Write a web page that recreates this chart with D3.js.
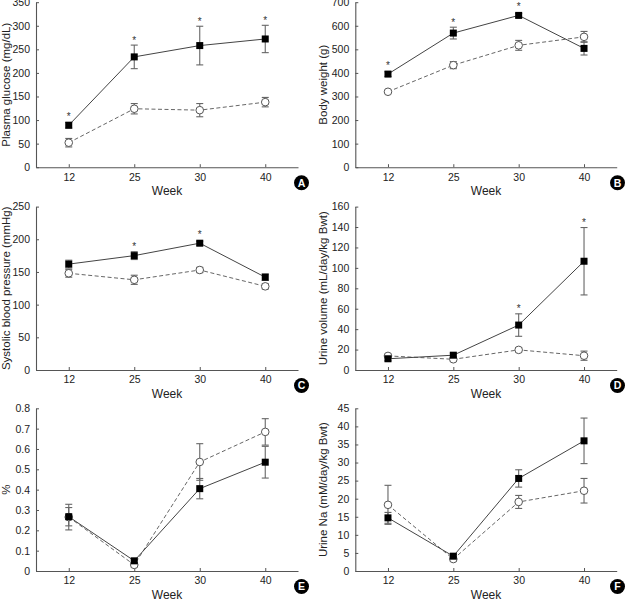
<!DOCTYPE html>
<html><head><meta charset="utf-8">
<script src="https://cdn.jsdelivr.net/npm/d3@7"></script>
<style>body{margin:0;background:#fff}svg{display:block}text{font-family:"Liberation Sans",Arial,sans-serif}</style>
</head><body><svg id="c" width="628" height="599"></svg>
<script>
const weeks = ["12","25","30","40"];

const glucoseDM = [89, 234, 258, 272], glucoseDMErr = [6, 25, 41, 29];
const glucoseCon = [52, 124, 121, 138], glucoseConErr = [9, 11, 14, 10];
const glucoseSig = [1, 1, 1, 1];
const glucoseTicks = [0, 50, 100, 150, 200, 250, 300, 350];

const weightDM = [395, 569, 644, 504], weightDMErr = [10, 25, 8, 28];
const weightCon = [320, 433, 517, 553], weightConErr = [5, 15, 21, 23];
const weightSig = [1, 1, 1, 0];
const weightTicks = [0, 100, 200, 300, 400, 500, 600, 700];

const sbpDM = [162, 175, 194, 142], sbpDMErr = [6, 6, 3, 5];
const sbpCon = [148, 138, 153, 128], sbpConErr = [6, 7, 4, 4];
const sbpSig = [0, 1, 1, 0];
const sbpTicks = [0, 50, 100, 150, 200, 250];

const uvDM = [11, 14.5, 44, 106.5], uvDMErr = [2, 2, 11, 33];
const uvCon = [13.8, 10.5, 19.7, 14], uvConErr = [1.5, 1.5, 2, 4.5];
const uvSig = [0, 0, 1, 1];
const uvTicks = [0, 20, 40, 60, 80, 100, 120, 140, 160];

const pctDM = [0.267, 0.05, 0.405, 0.535], pctDMErr = [0.045, 0.01, 0.05, 0.078];
const pctCon = [0.265, 0.03, 0.536, 0.684], pctConErr = [0.063, 0.01, 0.09, 0.065];
const pctSig = [0, 0, 0, 0];
const pctTicks = ["0", "0.1", "0.2", "0.3", "0.4", "0.5", "0.6", "0.7", "0.8"];

const naDM = [14.7, 4.1, 25.6, 36], naDMErr = [1.5, 0.5, 2.4, 6.3];
const naCon = [18.3, 3.3, 19.1, 22.2], naConErr = [5.4, 0.5, 1.8, 3.4];
const naSig = [0, 0, 0, 0];
const naTicks = [0, 5, 10, 15, 20, 25, 30, 35, 40, 45];

const panels = [
  {letter:"A", ylabel:"Plasma glucose (mg/dL)", dm:glucoseDM, dmErr:glucoseDMErr, con:glucoseCon, conErr:glucoseConErr, sig:glucoseSig, ticks:glucoseTicks, col:0, row:0},
  {letter:"B", ylabel:"Body weight (g)", dm:weightDM, dmErr:weightDMErr, con:weightCon, conErr:weightConErr, sig:weightSig, ticks:weightTicks, col:1, row:0},
  {letter:"C", ylabel:"Systolic blood pressure (mmHg)", dm:sbpDM, dmErr:sbpDMErr, con:sbpCon, conErr:sbpConErr, sig:sbpSig, ticks:sbpTicks, col:0, row:1},
  {letter:"D", ylabel:"Urine volume (mL/day/kg Bwt)", dm:uvDM, dmErr:uvDMErr, con:uvCon, conErr:uvConErr, sig:uvSig, ticks:uvTicks, col:1, row:1},
  {letter:"E", ylabel:"%", dm:pctDM, dmErr:pctDMErr, con:pctCon, conErr:pctConErr, sig:pctSig, ticks:pctTicks, col:0, row:2},
  {letter:"F", ylabel:"Urine Na (mM/day/kg Bwt)", dm:naDM, dmErr:naDMErr, con:naCon, conErr:naConErr, sig:naSig, ticks:naTicks, col:1, row:2}
];

const colX = [[36, 298], [355.3, 616.7]];
const rowY = [[167.2, 2.2], [370, 206.6], [571, 408.3]];
const labelX = [10, 327];
const letterX = [301.5, 617.5];

const svg = d3.select("#c");
const axisCol = "#555";

panels.forEach(p => {
  const tv = p.ticks.map(Number);
  const x = d3.scalePoint().domain(weeks).range(colX[p.col]).padding(0.5);
  const y = d3.scaleLinear().domain([0, d3.max(tv)]).range(rowY[p.row]);
  const g = svg.append("g");

  const xa = g.append("g").attr("transform", `translate(0,${rowY[p.row][0]})`)
    .call(d3.axisBottom(x).tickSizeInner(-3).tickSizeOuter(0).tickPadding(6));
  const ya = g.append("g").attr("transform", `translate(${colX[p.col][0]},0)`)
    .call(d3.axisLeft(y).tickValues(tv).tickFormat((d,i) => String(p.ticks[i])).tickSizeInner(-3).tickSizeOuter(0).tickPadding(6));
  [xa, ya].forEach(a => {
    a.select(".domain").attr("stroke", axisCol).attr("stroke-width", 1.1);
    a.selectAll(".tick line").attr("stroke", axisCol);
    a.selectAll("text").attr("font-size", 10.5).attr("fill", "#222").attr("font-family", "Liberation Sans, Arial, sans-serif");
  });

  g.append("text").attr("x", (colX[p.col][0] + colX[p.col][1]) / 2).attr("y", rowY[p.row][0] + 27.5)
    .attr("text-anchor", "middle").attr("font-size", 12).attr("fill", "#222").text("Week");
  g.append("text").attr("transform", `translate(${labelX[p.col]},${(rowY[p.row][0] + rowY[p.row][1]) / 2}) rotate(-90)`)
    .attr("text-anchor", "middle").attr("font-size", 11.5).attr("fill", "#222").text(p.ylabel);

  const ly = rowY[p.row][0] + 15.5;
  g.append("circle").attr("cx", letterX[p.col]).attr("cy", ly).attr("r", 7.5).attr("fill", "#000");
  g.append("text").attr("x", letterX[p.col]).attr("y", ly + 3.8).attr("text-anchor", "middle")
    .attr("font-size", 10.5).attr("font-weight", "bold").attr("fill", "#fff").text(p.letter);

  const series = [
    {vals:p.con, err:p.conErr, dash:"4,2.5", lineCol:"#666", filled:false},
    {vals:p.dm, err:p.dmErr, dash:null, lineCol:"#444", filled:true}
  ];
  // error bars
  series.forEach(s => {
    weeks.forEach((w, i) => {
      const cx = x(w), yt = y(s.vals[i] + s.err[i]), yb = y(s.vals[i] - s.err[i]);
      const eb = g.append("g").attr("stroke", "#666").attr("stroke-width", 1.1);
      eb.append("line").attr("x1", cx).attr("x2", cx).attr("y1", yt).attr("y2", yb);
      eb.append("line").attr("x1", cx - 3.5).attr("x2", cx + 3.5).attr("y1", yt).attr("y2", yt);
      eb.append("line").attr("x1", cx - 3.5).attr("x2", cx + 3.5).attr("y1", yb).attr("y2", yb);
    });
  });
  // lines
  series.forEach(s => {
    const line = d3.line().x((d, i) => x(weeks[i])).y(d => y(d));
    g.append("path").datum(s.vals).attr("d", line).attr("fill", "none")
      .attr("stroke", s.lineCol).attr("stroke-width", 1).attr("stroke-dasharray", s.dash);
  });
  // markers
  series.forEach(s => {
    weeks.forEach((w, i) => {
      const cx = x(w), cy = y(s.vals[i]);
      if (s.filled) {
        g.append("rect").attr("x", cx - 3.5).attr("y", cy - 3.5).attr("width", 7).attr("height", 7).attr("fill", "#000");
      } else {
        g.append("circle").attr("cx", cx).attr("cy", cy).attr("r", 3.8).attr("fill", "#fff").attr("stroke", "#555").attr("stroke-width", 1);
      }
    });
  });
  // significance asterisks
  weeks.forEach((w, i) => {
    if (!p.sig[i]) return;
    const top = Math.min(y(p.dm[i] + p.dmErr[i]), y(p.dm[i]) - 3.5);
    g.append("text").attr("x", x(w)).attr("y", top - 1.5).attr("text-anchor", "middle")
      .attr("font-size", 10).attr("fill", "#333").text("*");
  });
});
</script></body></html>
